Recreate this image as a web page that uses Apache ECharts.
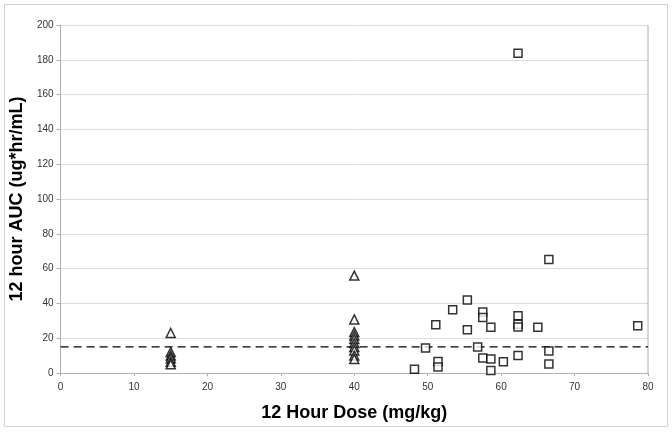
<!DOCTYPE html>
<html>
<head>
<meta charset="utf-8">
<script src="https://cdn.jsdelivr.net/npm/echarts@6/dist/echarts.min.js"></script>
<style>html,body{margin:0;padding:0;background:#fff}#c{width:672px;height:432px}</style>
</head>
<body>
<div id="c"></div>
<script>
// Triangle group (doses 15 and 40 mg/kg)
const triX = [15, 15, 15, 15, 15, 15, 40, 40, 40, 40, 40, 40, 40, 40, 40, 40];
const triY = [23, 12, 10, 8.5, 6.5, 5, 56, 30.8, 23.5, 21.5, 19.5, 17.2, 15, 13, 10, 8];
// Square group
const sqX = [48.2, 49.7, 51.1, 51.4, 51.4, 53.4, 55.4, 55.4, 56.8, 57.5, 57.5, 57.5, 58.6, 58.6, 58.6, 60.3, 62.3, 62.3, 62.3, 62.3, 62.3, 65.0, 66.5, 66.5, 66.5, 78.6];
const sqY = [2.2, 14.3, 27.8, 6.6, 3.5, 36.3, 42, 24.8, 14.9, 35, 31.9, 8.6, 26.3, 8, 1.5, 6.5, 183.7, 32.9, 28, 26.5, 10, 26.3, 65.3, 12.7, 5.2, 27.1];
// Reference line
const refY = 15;
const xTicks = [0, 80, 10];
const yTicks = [0, 200, 20];

const chart = echarts.init(document.getElementById('c'));
const tri = triX.map((x, i) => [x, triY[i]]);
const sq = sqX.map((x, i) => [x, sqY[i]]);
chart.setOption({
  animation: false,
  backgroundColor: '#fff',
  graphic: [{
    type: 'rect', shape: {x: 4.5, y: 4.5, width: 663, height: 422},
    style: {fill: 'none', stroke: '#d0d0d0', lineWidth: 1}, silent: true
  }],
  grid: {left: 57, right: 24, top: 25, bottom: 59},
  xAxis: {
    type: 'value', min: xTicks[0], max: xTicks[1], interval: xTicks[2],
    name: '12 Hour Dose (mg/kg)', nameLocation: 'middle', nameGap: 31,
    nameTextStyle: {fontFamily: 'Liberation Sans', fontWeight: 'bold', fontSize: 18, color: '#000'},
    axisLine: {lineStyle: {color: '#b0b0b0'}},
    axisTick: {show: true, length: 3, lineStyle: {color: '#b0b0b0'}},
    axisLabel: {fontFamily: 'Liberation Sans', fontSize: 10, color: '#333', margin: 9},
    splitLine: {show: false}
  },
  yAxis: {
    type: 'value', min: yTicks[0], max: yTicks[1], interval: yTicks[2],
    name: '12 hour AUC (ug*hr/mL)', nameLocation: 'middle', nameGap: 27, nameRotate: 90,
    nameTextStyle: {fontFamily: 'Liberation Sans', fontWeight: 'bold', fontSize: 18, color: '#000'},
    axisLine: {show: true, lineStyle: {color: '#b0b0b0'}},
    axisTick: {show: true, length: 4, lineStyle: {color: '#b0b0b0'}},
    axisLabel: {fontFamily: 'Liberation Sans', fontSize: 10, color: '#333', margin: 7},
    splitLine: {show: true, lineStyle: {color: '#dcdcdc', width: 1}}
  },
  series: [
    {
      type: 'scatter', data: tri, symbol: 'triangle', symbolSize: 9,
      itemStyle: {color: '#fff', borderColor: '#000', borderWidth: 1.5}
    },
    {
      type: 'scatter', data: sq, symbol: 'rect', symbolSize: 8,
      itemStyle: {color: '#fff', borderColor: '#000', borderWidth: 1.5}
    },
    {
      type: 'line', data: [[xTicks[0], refY], [xTicks[1], refY]], symbol: 'none',
      lineStyle: {color: '#000', width: 1.3, type: [8, 5]}, z: 1
    },
    {
      type: 'line', data: [[xTicks[1], yTicks[0]], [xTicks[1], yTicks[1]]], symbol: 'none',
      lineStyle: {color: '#b0b0b0', width: 1}, z: 0
    }
  ]
});
</script>
</body>
</html>
